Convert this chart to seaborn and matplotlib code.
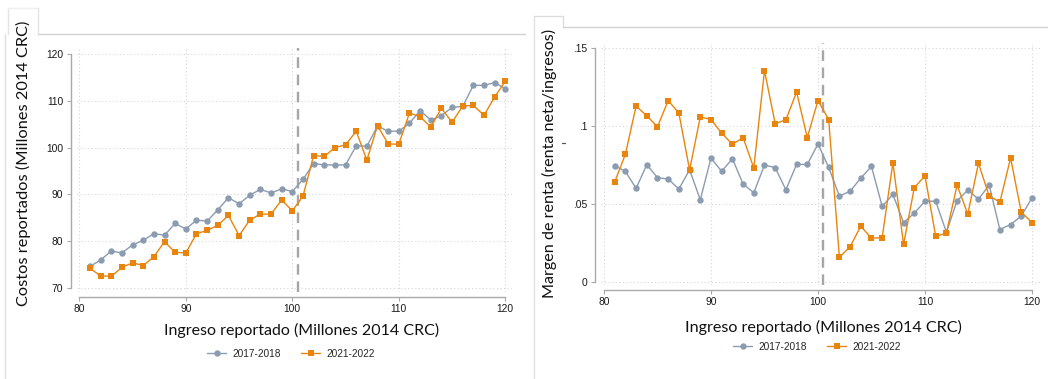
import numpy as np
import pandas as pd
import matplotlib
matplotlib.use("Agg")
import matplotlib.pyplot as plt
from matplotlib.lines import Line2D
import seaborn as sns

# ---------------- data ----------------
ingreso = list(range(81, 121))
periodos = ["2017-2018", "2021-2022"]

costos_2017 = [74.6, 76.0, 77.9, 77.5, 79.2, 80.2, 81.6, 81.3, 83.8, 82.6,
               84.5, 84.3, 86.7, 89.3, 88.0, 89.8, 91.1, 90.3, 91.2, 90.6,
               93.2, 96.6, 96.3, 96.3, 96.3, 100.4, 100.3, 104.6, 103.5, 103.5,
               105.2, 107.9, 105.9, 106.8, 108.6, 108.8, 113.3, 113.3, 113.9, 112.6]
costos_2021 = [74.2, 72.6, 72.5, 74.4, 75.4, 74.8, 76.7, 79.9, 77.6, 77.5,
               81.6, 82.3, 83.4, 85.5, 81.2, 84.5, 85.8, 85.8, 88.8, 86.5,
               89.6, 98.3, 98.1, 100.0, 100.6, 103.5, 97.3, 104.7, 100.8, 100.7,
               107.4, 106.6, 104.4, 108.4, 105.4, 108.9, 109.0, 106.9, 110.8, 114.2]

margen_2017 = [0.0747, 0.0710, 0.0601, 0.0753, 0.0670, 0.0661, 0.0597, 0.0720, 0.0528, 0.0796,
               0.0710, 0.0792, 0.0629, 0.0573, 0.0751, 0.0734, 0.0592, 0.0755, 0.0755, 0.0886,
               0.0736, 0.0552, 0.0582, 0.0667, 0.0742, 0.0485, 0.0562, 0.0382, 0.0442, 0.0519,
               0.0519, 0.0320, 0.0521, 0.0590, 0.0532, 0.0622, 0.0337, 0.0369, 0.0423, 0.0541]
margen_2021 = [0.0642, 0.0820, 0.1129, 0.1067, 0.0996, 0.1165, 0.1084, 0.0719, 0.1060, 0.1043,
               0.0955, 0.0884, 0.0927, 0.0732, 0.1356, 0.1017, 0.1041, 0.1219, 0.0927, 0.1165,
               0.1043, 0.0159, 0.0227, 0.0358, 0.0281, 0.0285, 0.0766, 0.0242, 0.0605, 0.0682,
               0.0294, 0.0313, 0.0622, 0.0436, 0.0762, 0.0552, 0.0513, 0.0796, 0.0448, 0.0382]

xticks = [80, 90, 100, 110, 120]
costos_yticks = [70, 80, 90, 100, 110, 120]
margen_yticks = [0.0, 0.05, 0.10, 0.15]
margen_yticklabels = ["0", ".05", ".1", ".15"]
umbral = 100.5

xlabel = "Ingreso reportado (Millones 2014 CRC)"
ylabel_costos = "Costos reportados (Millones 2014 CRC)"
ylabel_margen = "Margen de renta (renta neta/ingresos)"

colores = {"2017-2018": "#8b9cb0", "2021-2022": "#e8850e"}
marcadores = {"2017-2018": "o", "2021-2022": "s"}

df_costos = pd.DataFrame({
    "ingreso": ingreso * 2,
    "valor": costos_2017 + costos_2021,
    "periodo": [periodos[0]] * len(ingreso) + [periodos[1]] * len(ingreso),
})
df_margen = pd.DataFrame({
    "ingreso": ingreso * 2,
    "valor": margen_2017 + margen_2021,
    "periodo": [periodos[0]] * len(ingreso) + [periodos[1]] * len(ingreso),
})

# ---------------- style ----------------
sns.set_theme(style="white")
plt.rcParams["font.family"] = ["Liberation Sans", "DejaVu Sans"]

W, H = 1048, 379
fig = plt.figure(figsize=(W / 100, H / 100), dpi=100)
fig.patch.set_facecolor("white")

def rect(l, t, r, b):
    return [l / W, 1 - b / H, (r - l) / W, (b - t) / H]

def P(x, y):
    return (x / W, 1 - y / H)

SPINE = "#a9a9a9"
GRID = "#d6d6d6"

ax1 = fig.add_axes(rect(77, 48, 512, 292))
ax2 = fig.add_axes(rect(601, 42.7, 1040, 285))

def draw(ax, df, xlim, ylim, yticks, yticklabels, xbound, ybound, legend_xy):
    sns.lineplot(data=df, x="ingreso", y="valor", hue="periodo", style="periodo",
                 palette=colores, markers=marcadores, dashes=False, errorbar=None,
                 linewidth=1.0, markersize=4.6, markeredgewidth=0, ax=ax, legend=True)
    ax.set_xlim(*xlim)
    ax.set_ylim(*ylim)
    ax.set_xticks(xticks)
    ax.set_yticks(yticks)
    ax.set_yticklabels(yticklabels)
    ax.set_xlabel("")
    ax.set_ylabel("")
    ax.grid(True, color=GRID, linestyle=(0, (1, 2.2)), linewidth=0.8)
    ax.set_axisbelow(True)
    ax.axvline(umbral, color="#a6a6a6", linestyle=(0, (4.5, 2.8)), linewidth=1.7, zorder=1)
    for s in ["top", "right"]:
        ax.spines[s].set_visible(False)
    ax.spines["left"].set_position(("outward", 4.5))
    ax.spines["bottom"].set_position(("outward", 3.5))
    ax.spines["left"].set_bounds(*ybound)
    ax.spines["bottom"].set_bounds(*xbound)
    for s in ["left", "bottom"]:
        ax.spines[s].set_color(SPINE)
        ax.spines[s].set_linewidth(1.0)
    ax.tick_params(axis="both", which="major", length=3, width=0.8, color=SPINE,
                   labelsize=7.4, labelcolor="#1a1a1a", left=True, bottom=True)
    ax.tick_params(axis="y", pad=2.5)
    ax.tick_params(axis="x", pad=2)
    handles, labels = ax.get_legend_handles_labels()
    ax.get_legend().remove()
    fig.legend(handles, labels, loc="center", bbox_to_anchor=P(*legend_xy), ncol=2,
               frameon=False, fontsize=7.3, handlelength=1.9, handletextpad=0.6,
               columnspacing=2.0)

draw(ax1, df_costos, (79.78, 120.63), (69.15, 121.28), costos_yticks,
     [str(v) for v in costos_yticks], (80, 120), (70, 120), (291, 354))
draw(ax2, df_margen, (79.72, 120.75), (-0.0019, 0.1536), margen_yticks,
     margen_yticklabels, (80, 120), (0, 0.15), (817, 347))

# axis titles
LBL = ["Lato", "DejaVu Sans"]
t_x1 = fig.text(*P(302, 330), xlabel, ha="center", va="center", fontsize=11, family=LBL, color="#111111")
t_x2 = fig.text(*P(823, 327), xlabel, ha="center", va="center", fontsize=11, family=LBL, color="#111111")
t_y1 = fig.text(*P(23, 163.5), ylabel_costos, ha="center", va="center", rotation=90, fontsize=11, family=LBL, color="#111111")
t_y2 = fig.text(*P(549, 163), ylabel_margen, ha="center", va="center", rotation=90, fontsize=11, family=LBL, color="#111111")

renderer = fig.canvas.get_renderer()
def fit(t, target, vertical=False):
    for _ in range(3):
        bb = t.get_window_extent(renderer)
        size = bb.height if vertical else bb.width
        t.set_fontsize(t.get_fontsize() * target / size)

fit(t_x1, 275)
fit(t_x2, 278)
fit(t_y1, 285, True)
fit(t_y2, 270, True)

# panel frames (screenshot borders)
FR = "#d2d2d2"
def seg(x0, y0, x1, y1, c=FR, lw=1.0):
    fig.add_artist(Line2D([x0 / W, x1 / W], [1 - y0 / H, 1 - y1 / H], color=c, linewidth=lw,
                          transform=fig.transFigure))

# left panel
seg(8.3, 8, 8.3, 33.5, c="#e4e4e4")
seg(8.3, 8, 37.7, 8, c="#efefef")
seg(37.7, 8, 37.7, 33.5, c="#e4e4e4")
seg(37.7, 33.5, 525, 33.5)
seg(5, 33.5, 5, 379, c="#e0e0e0")
# right panel
seg(533.5, 16, 533.5, 379, c="#e0e0e0")
seg(533.5, 16, 563.3, 16, c="#dcdcdc")
seg(563.3, 16, 563.3, 26.7, c="#dcdcdc")
seg(563.3, 26.7, 1048, 26.7)
# small stray mark
seg(561.5, 143, 565, 143, c="#555555", lw=0.9)

fig.savefig("out.png", dpi=100, facecolor="white")
